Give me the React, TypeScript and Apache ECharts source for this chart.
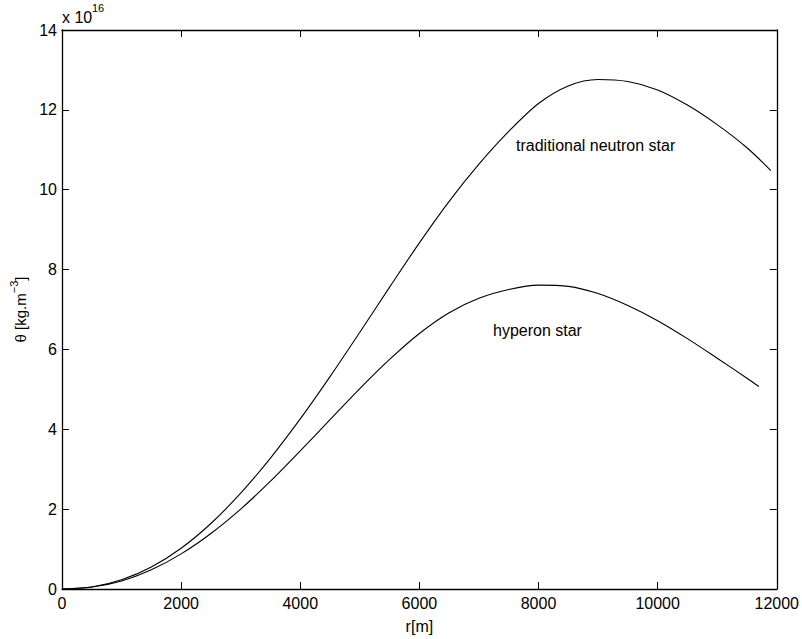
import React, { useEffect, useRef } from "react";
import * as echarts from "echarts";

const radius = [0, 500, 1000, 1500, 2000, 2500, 3000, 3500, 4000, 4500, 5000, 5500, 6000, 6500, 7000, 7500, 8000, 8500, 9000, 9500, 10000, 10500, 11000, 11500, 11900];
const neutronDensity = [0, 0.05, 0.23, 0.55, 1.02, 1.64, 2.4, 3.28, 4.26, 5.32, 6.43, 7.56, 8.67, 9.71, 10.64, 11.46, 12.16, 12.6, 12.76, 12.71, 12.5, 12.12, 11.63, 11.05, 10.48];

const hyperonRadius = [0, 500, 1000, 1500, 2000, 2500, 3000, 3500, 4000, 4500, 5000, 5500, 6000, 6500, 7000, 7500, 8000, 8500, 9000, 9500, 10000, 10500, 11000, 11500, 11700];
const hyperonDensity = [0, 0.05, 0.2, 0.48, 0.88, 1.39, 2.0, 2.7, 3.46, 4.24, 5.02, 5.75, 6.4, 6.92, 7.28, 7.5, 7.61, 7.58, 7.4, 7.1, 6.72, 6.27, 5.78, 5.28, 5.07];

const xTicks = [0, 2000, 4000, 6000, 8000, 10000, 12000];
const yTicks = [0, 2, 4, 6, 8, 10, 12, 14];

const FONT = "Liberation Sans, Arial, Helvetica, sans-serif";

export default function App() {
  const ref = useRef<HTMLDivElement>(null);
  useEffect(() => {
    if (!ref.current) return;
    const chart = echarts.init(ref.current, null, { renderer: "svg" });
    const axisLine = { show: true, onZero: false, lineStyle: { color: "#000", width: 1.3 } };
    const axisTick = { show: true, inside: true, length: 7, lineStyle: { color: "#000", width: 1 } };
    const labelStyle = { color: "#000", fontSize: 16, fontFamily: FONT };
    const fmt = (v: number) => String(v);
    chart.setOption({
      animation: false,
      backgroundColor: "#fff",
      grid: { left: 62, right: 25, top: 30, bottom: 46, containLabel: false },
      xAxis: [
        {
          type: "value",
          min: xTicks[0],
          max: xTicks[xTicks.length - 1],
          interval: 2000,
          position: "bottom",
          axisLine,
          axisTick,
          splitLine: { show: false },
          axisLabel: { ...labelStyle, margin: 6, formatter: fmt },
          name: "r[m]",
          nameLocation: "middle",
          nameGap: 29,
          nameTextStyle: { ...labelStyle },
        },
        {
          type: "value",
          min: xTicks[0],
          max: xTicks[xTicks.length - 1],
          interval: 2000,
          position: "top",
          axisLine,
          axisTick,
          splitLine: { show: false },
          axisLabel: { show: false },
        },
      ],
      yAxis: [
        {
          type: "value",
          min: yTicks[0],
          max: yTicks[yTicks.length - 1],
          interval: 2,
          position: "left",
          axisLine,
          axisTick,
          splitLine: { show: false },
          axisLabel: { ...labelStyle, margin: 5, formatter: fmt },
          name: "{a|θ [kg.m}{b|−3}{a|]}",
          nameLocation: "middle",
          nameGap: 33,
          nameRotate: 90,
          nameTextStyle: {
            ...labelStyle,
            rich: {
              a: { fontSize: 15, fontFamily: FONT, color: "#000", lineHeight: 20, verticalAlign: "bottom" },
              b: { fontSize: 11, fontFamily: FONT, color: "#000", lineHeight: 20, verticalAlign: "top" },
            },
          },
        },
        {
          type: "value",
          min: yTicks[0],
          max: yTicks[yTicks.length - 1],
          interval: 2,
          position: "right",
          axisLine,
          axisTick,
          splitLine: { show: false },
          axisLabel: { show: false },
        },
      ],
      graphic: [
        { type: "text", left: 62, top: 9, style: { text: "x 10", font: `16px ${FONT}`, fill: "#000" } },
        { type: "text", left: 92, top: 2, style: { text: "16", font: `11px ${FONT}`, fill: "#000" } },
        { type: "text", left: 516, top: 137, style: { text: "traditional neutron star", font: `16px ${FONT}`, fill: "#000" } },
        { type: "text", left: 493, top: 322, style: { text: "hyperon star", font: `16px ${FONT}`, fill: "#000" } },
      ],
      series: [
        {
          type: "line",
          name: "traditional neutron star",
          data: radius.map((r, i) => [r, neutronDensity[i]]),
          showSymbol: false,
          smooth: 0.3,
          lineStyle: { color: "#000", width: 1.1 },
        },
        {
          type: "line",
          name: "hyperon star",
          data: hyperonRadius.map((r, i) => [r, hyperonDensity[i]]),
          showSymbol: false,
          smooth: 0.3,
          lineStyle: { color: "#000", width: 1.1 },
        },
      ],
    });
    return () => chart.dispose();
  }, []);
  return <div ref={ref} style={{ width: 802, height: 639, position: "absolute", left: 0, top: 0 }} />;
}
